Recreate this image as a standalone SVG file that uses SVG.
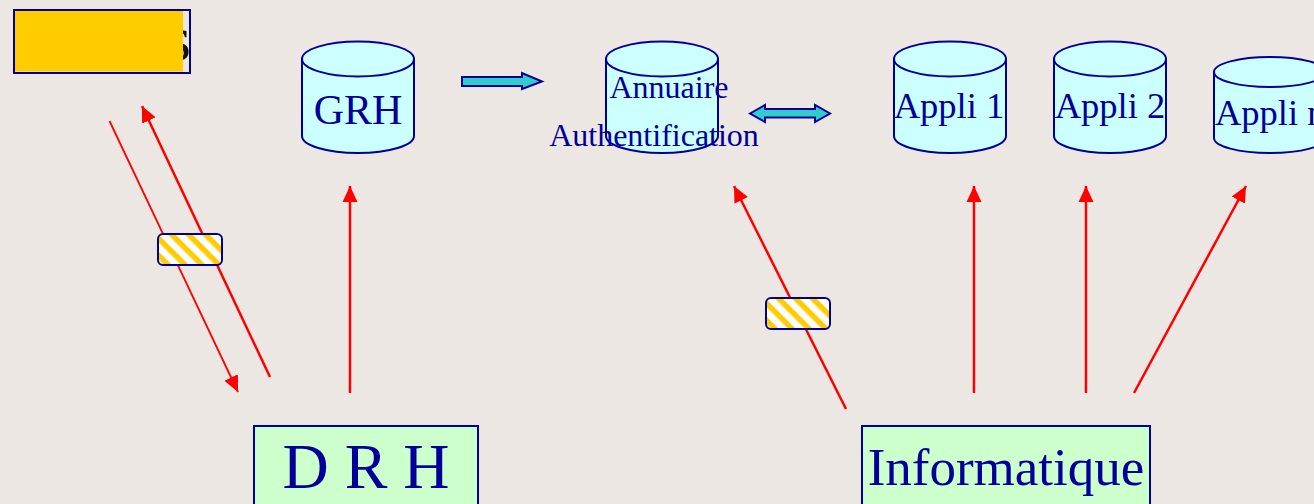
<svg xmlns="http://www.w3.org/2000/svg" width="1314" height="504" viewBox="0 0 1314 504">
<style>
text{font-family:"Liberation Serif","Times New Roman",serif;fill:#000099}
.cyl{fill:#ccffff;stroke:#000099;stroke-width:2}
.box{fill:#ccffcc;stroke:#000099;stroke-width:2}
.tag{fill:url(#hatch);stroke:#000099;stroke-width:2}
.blk{fill:#33cccc;stroke:#000099;stroke-width:2}
.red{stroke:#ff0000;fill:none;stroke-width:2.500}
</style>
<defs>
<pattern id="hatch" width="12" height="12" patternUnits="userSpaceOnUse" patternTransform="translate(158 234) rotate(45)">
<rect width="12" height="12" fill="#ffffff"/>
<rect width="12" height="5.500" fill="#ffcc00"/>
</pattern>
<marker id="ah" markerUnits="userSpaceOnUse" markerWidth="18" markerHeight="18" viewBox="0 0 18 18" refX="16" refY="9" orient="auto">
<path d="M0 1.500L16 9L0 16.500Z" fill="#ff0000"/>
</marker>
</defs>
<rect width="1314" height="504" fill="#ece7e3"/>
<g id="connectors">
<line class="red" x1="109.500" y1="121" x2="238" y2="392" style="stroke-width:1.800" marker-end="url(#ah)"/>
<line class="red" x1="270" y1="377" x2="142" y2="106" marker-end="url(#ah)"/>
<line class="red" x1="350" y1="393" x2="350" y2="186" marker-end="url(#ah)"/>
<line class="red" x1="846" y1="409" x2="734" y2="186" marker-end="url(#ah)"/>
<line class="red" x1="974" y1="393" x2="974" y2="186" marker-end="url(#ah)"/>
<line class="red" x1="1086" y1="393" x2="1086" y2="186" marker-end="url(#ah)"/>
<line class="red" x1="1134" y1="393" x2="1246" y2="186" marker-end="url(#ah)"/>
<path class="blk" d="M462 77H522V73L542 81.500L522 89V86H462Z"/>
<path class="blk" d="M750 113.500L765 105V109H815V105L830 113.500L815 122V117.500H765V122Z"/>
</g>
<g id="logo">
<text x="166" y="60" font-size="64" style="fill:#1a1000">s</text>
<rect x="14" y="10" width="176" height="63" fill="none" stroke="#000099" stroke-width="2"/>
<rect x="15" y="11" width="168" height="60.500" fill="#ffcc00"/>
</g>
<g id="grh">
<path class="cyl" d="M302 59V136A56 17 0 0 0 414 136V59Z"/>
<ellipse class="cyl" cx="358" cy="59" rx="56" ry="17.500"/>
<text x="358" y="124" font-size="42" text-anchor="middle">GRH</text>
</g>
<g id="annuaire">
<path class="cyl" d="M606 59V136A56 17 0 0 0 718 136V59Z"/>
<ellipse class="cyl" cx="662" cy="59" rx="56" ry="17.500"/>
<text x="669" y="98" font-size="32" text-anchor="middle">Annuaire</text>
<text x="654" y="146" font-size="32" text-anchor="middle">Authentification</text>
</g>
<g id="appli1">
<path class="cyl" d="M894 59V136A56 17 0 0 0 1006 136V59Z"/>
<ellipse class="cyl" cx="950" cy="59" rx="56" ry="17.500"/>
<text x="949" y="118" font-size="36.500" text-anchor="middle">Appli 1</text>
</g>
<g id="appli2">
<path class="cyl" d="M1054 59V136A56 17 0 0 0 1166 136V59Z"/>
<ellipse class="cyl" cx="1110" cy="59" rx="56" ry="17.500"/>
<text x="1110" y="118" font-size="36.500" text-anchor="middle">Appli 2</text>
</g>
<g id="applin">
<path class="cyl" d="M1214 72V138A56 15 0 0 0 1326 138V72Z"/>
<ellipse class="cyl" cx="1270" cy="72" rx="56" ry="15"/>
<text x="1215" y="125" font-size="36.500">Appli n</text>
</g>
<g id="tag-left"><rect class="tag" x="158" y="234" width="64" height="31" rx="5"/></g>
<g id="tag-right"><rect class="tag" x="766" y="298" width="64" height="31" rx="5"/></g>
<g id="drh">
<rect class="box" x="254" y="426" width="224" height="90"/>
<text x="366" y="488" font-size="64" text-anchor="middle">D R H</text>
</g>
<g id="informatique">
<rect class="box" x="862" y="426" width="288" height="90"/>
<text x="1006" y="485" font-size="53" text-anchor="middle">Informatique</text>
</g>
</svg>
